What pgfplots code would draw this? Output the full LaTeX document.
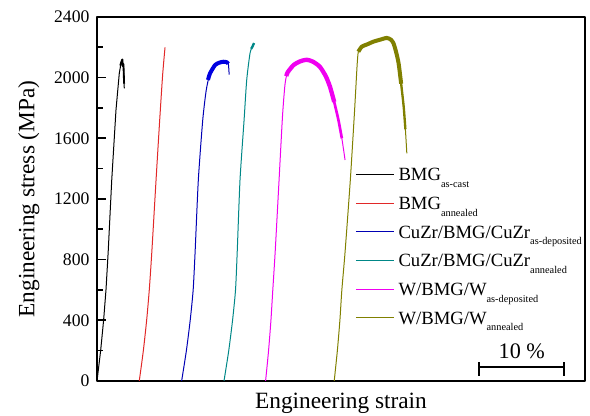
\documentclass[border=0pt]{standalone}
\usepackage{fontspec}
\setmainfont{Liberation Serif}
\usepackage{pgfplots}
\pgfplotsset{compat=1.18}

\definecolor{cRed}{RGB}{225,40,40}
\definecolor{cBlue}{RGB}{0,0,225}
\definecolor{cCyan}{RGB}{0,135,135}
\definecolor{cMag}{RGB}{240,0,240}
\definecolor{cOlive}{RGB}{128,128,0}

\newcommand{\sub}[1]{\raisebox{-4pt}{\fontsize{6.2}{7}\selectfont #1}}

\begin{document}
\begin{tikzpicture}
\begin{axis}[
  name=ax,
  scale only axis,
  width=292.8pt, height=218.4pt,
  xmin=0, xmax=57.6,
  ymin=0, ymax=2400,
  xtick=\empty,
  ytick={0,400,...,2400},
  minor y tick num=1,
  ytick pos=left,
  tick align=inside,
  major tick length=5.4pt,
  minor tick length=3.9pt,
  every tick/.style={black, line width=1pt},
  axis line style={line width=1.2pt},
  /pgf/number format/assume math mode=true,
  /pgf/number format/1000 sep={},
  yticklabel style={font=\fontsize{10.6}{12}\selectfont, xshift=-1pt},
  xlabel={Engineering strain},
  ylabel={Engineering stress (MPa)},
  label style={font=\fontsize{14}{16}\selectfont},
  xlabel style={at={(axis description cs:0.5,0)}, anchor=base, yshift=-16.8pt},
  ylabel style={at={(axis description cs:0,0.5)}, anchor=base, rotate=0, yshift=37.5pt},
  legend cell align=left,
  legend image code/.code={\draw[#1, line width=0.7pt] (0pt,2.5pt) -- (22.8pt,2.5pt);},
  legend style={at={(0.5287,0.5962)}, anchor=north west, draw=none, fill=none,
    inner sep=0pt, row sep=0pt,
    nodes={inner sep=0pt, text height=10pt, text depth=7.2pt},
    font=\fontsize{11.2}{12}\selectfont,
    /tikz/every odd column/.append style={column sep=2.4pt}},
  line join=round,
]
% BMG as-cast
\addplot[black, line width=0.6pt] coordinates {
  (0,0) (0.43,200) (0.78,400) (1.06,600) (1.32,850) (1.74,1325) (2.24,1786) (2.63,2028)
  (2.85,2100) (2.99,2120) (3.05,2075) (3.12,2090) (3.22,1930)};
\addlegendentry{BMG\sub{as-cast}}
% BMG annealed
\addplot[cRed, line width=0.6pt, smooth, tension=0.4] coordinates {
  (4.99,0) (5.47,200) (5.86,400) (6.17,600) (6.47,850) (6.97,1325) (7.4,1720) (7.75,2020) (8.03,2200)};
\addlegendentry{BMG\sub{annealed}}
% CuZr/BMG/CuZr as-deposited
\addplot[cBlue!80!black, line width=0.6pt, smooth, tension=0.4] coordinates {
  (9.99,0) (10.55,200) (11.0,400) (11.35,600) (11.58,850) (11.96,1325) (12.48,1720) (12.9,1920)
  (13.34,2028) (13.93,2083) (14.4,2098) (14.9,2105) (15.3,2102) (15.5,2095) (15.6,2020)};
\addlegendentry{CuZr/BMG/CuZr\sub{as-deposited}}
% CuZr/BMG/CuZr annealed
\addplot[cCyan, line width=0.6pt, smooth, tension=0.4] coordinates {
  (14.99,0) (15.55,200) (16.0,400) (16.35,600) (16.55,850) (16.88,1325) (17.36,1720) (17.67,1984)
  (18.06,2160) (18.35,2205) (18.54,2228)};
\addlegendentry{CuZr/BMG/CuZr\sub{annealed}}
% W/BMG/W as-deposited
\addplot[cMag, line width=0.6pt, smooth, tension=0.4] coordinates {
  (19.9,0) (20.25,200) (20.53,400) (20.75,600) (21.03,850) (21.49,1325) (21.9,1750) (22.2,1960)
  (22.5,2035) (23.2,2083) (24.0,2108) (24.76,2118) (25.5,2105) (26.3,2072)
  (27.0,2010) (27.5,1940) (28.0,1840) (28.5,1720) (28.9,1600) (29.28,1457)};
\addlegendentry{W/BMG/W\sub{as-deposited}}
% W/BMG/W annealed
\addplot[cOlive, line width=0.6pt, smooth, tension=0.4] coordinates {
  (28.0,0) (28.37,200) (28.67,400) (28.9,600) (29.28,850) (29.9,1325) (30.4,1780) (30.7,2080)
  (30.85,2171) (31.25,2204) (32.0,2222) (32.6,2237) (33.4,2250) (34.2,2262)
  (34.7,2250) (35.0,2226) (35.3,2170) (35.6,2094) (35.9,1960) (36.2,1808)
  (36.4,1660) (36.57,1501)};
\addlegendentry{W/BMG/W\sub{annealed}}

% noisy plastic bands
\addplot[black, line width=1.1pt, forget plot] coordinates {
  (2.75,2080) (2.85,2100) (2.99,2120) (3.05,2075) (3.12,2090) (3.2,1960)};
\addplot[cBlue, line width=2.4pt, smooth, tension=0.4, forget plot] coordinates {
  (13.1,1985) (13.34,2028) (13.93,2083) (14.4,2098) (14.9,2105) (15.3,2102) (15.5,2092)};
\addplot[cCyan, line width=1.4pt, forget plot] coordinates {
  (18.2,2190) (18.35,2205) (18.54,2228)};
\addplot[cMag, line width=2.6pt, smooth, tension=0.4, forget plot] coordinates {
  (22.35,2010) (22.5,2035) (23.2,2083) (24.0,2108) (24.76,2118) (25.5,2105)
  (26.3,2072) (27.0,2010) (27.5,1940) (28.0,1840)};
\addplot[cMag, line width=1.6pt, smooth, tension=0.4, forget plot] coordinates {
  (27.8,1885) (28.0,1840) (28.5,1720) (28.9,1600)};
\addplot[cOlive, line width=2.4pt, smooth, tension=0.4, forget plot] coordinates {
  (30.85,2171) (31.25,2204) (32.0,2222) (32.6,2237) (33.4,2250) (34.2,2262)
  (34.7,2250) (35.0,2226) (35.3,2170) (35.6,2094) (35.9,1960)};
\addplot[cOlive, line width=1.4pt, smooth, tension=0.4, forget plot] coordinates {
  (35.75,2030) (35.9,1960) (36.2,1808) (36.4,1660)};

% scale bar
\addplot[black, line width=1.2pt, forget plot] coordinates {(45.14,94) (55.14,94)};
\addplot[black, line width=1.2pt, forget plot] coordinates {(45.14,33) (45.14,127)};
\addplot[black, line width=1.2pt, forget plot] coordinates {(55.14,33) (55.14,127)};
\node[anchor=base, font=\fontsize{13.3}{15}\selectfont, inner sep=0pt]
  at (axis cs:50.14,145) {10 \%};
\end{axis}
\pgfresetboundingbox
\path ([shift={(-58.2pt,-21pt)}]ax.south west) rectangle ([shift={(3pt,10.2pt)}]ax.north east);
\end{tikzpicture}
\end{document}
